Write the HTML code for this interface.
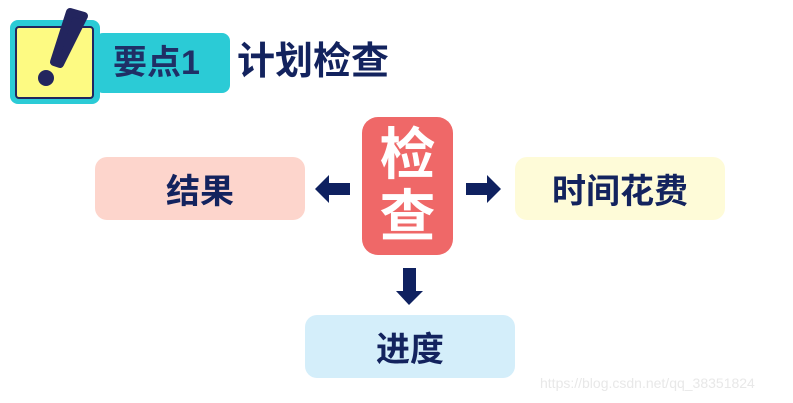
<!DOCTYPE html>
<html><head><meta charset="utf-8"><style>
body{margin:0;width:793px;height:403px;background:#fff;position:relative;overflow:hidden;font-family:"Liberation Sans","Noto Sans CJK SC",sans-serif;}
.a{position:absolute;}
.box{position:absolute;border-radius:12px;display:flex;align-items:center;justify-content:center;color:#13235e;font-weight:bold;font-size:34px;}
</style></head><body>
<div class="a" style="left:10px;top:20px;width:90px;height:84px;background:#2bcbd6;border-radius:8px"></div>
<div class="a" style="left:95px;top:33px;width:135px;height:60px;background:#2bcbd6;border-radius:8px"></div>
<div class="a" style="left:15px;top:26px;width:75px;height:69px;background:#fdfa82;border:2px solid #23255e;border-radius:4px"></div>
<svg class="a" style="left:0;top:0" width="120" height="110">
<path d="M70 12 L84 16 L60 64 L54 62 Z" fill="#23255e" stroke="#23255e" stroke-width="8" stroke-linejoin="round"/>
<circle cx="46" cy="78" r="8" fill="#23255e"/>
</svg>
<div class="a" style="left:113px;top:38px;font-size:34px;font-weight:bold;color:#1f2f66;line-height:50px">要点1</div>
<div class="a" style="left:237px;top:36px;font-size:38px;font-weight:bold;color:#13235e;line-height:52px">计划检查</div>
<div class="box" style="left:95px;top:157px;width:210px;height:63px;background:#fdd5cc">结果</div>
<div class="box" style="left:515px;top:157px;width:210px;height:63px;background:#fefbd8">时间花费</div>
<div class="box" style="left:305px;top:315px;width:210px;height:63px;background:#d4eefa">进度</div>
<div class="box" style="left:362px;top:117px;width:91px;height:138px;background:#ef6868;color:#fff;font-size:56px;flex-direction:column;line-height:62px;border-radius:16px">检<br>查</div>
<svg class="a" style="left:0;top:0" width="793" height="403">
<polygon points="315,189 329,175 329,183 350,183 350,195 329,195 329,203" fill="#0f2160"/>
<polygon points="501,189 487,175 487,183 466,183 466,195 487,195 487,203" fill="#0f2160"/>
<polygon points="409,305 396,291 403,291 403,268 416,268 416,291 423,291" fill="#0f2160"/>
</svg>
<div class="a" style="left:540px;top:375px;font-size:14px;color:#e8e8e8">https://blog.csdn.net/qq_38351824</div>
</body></html>
